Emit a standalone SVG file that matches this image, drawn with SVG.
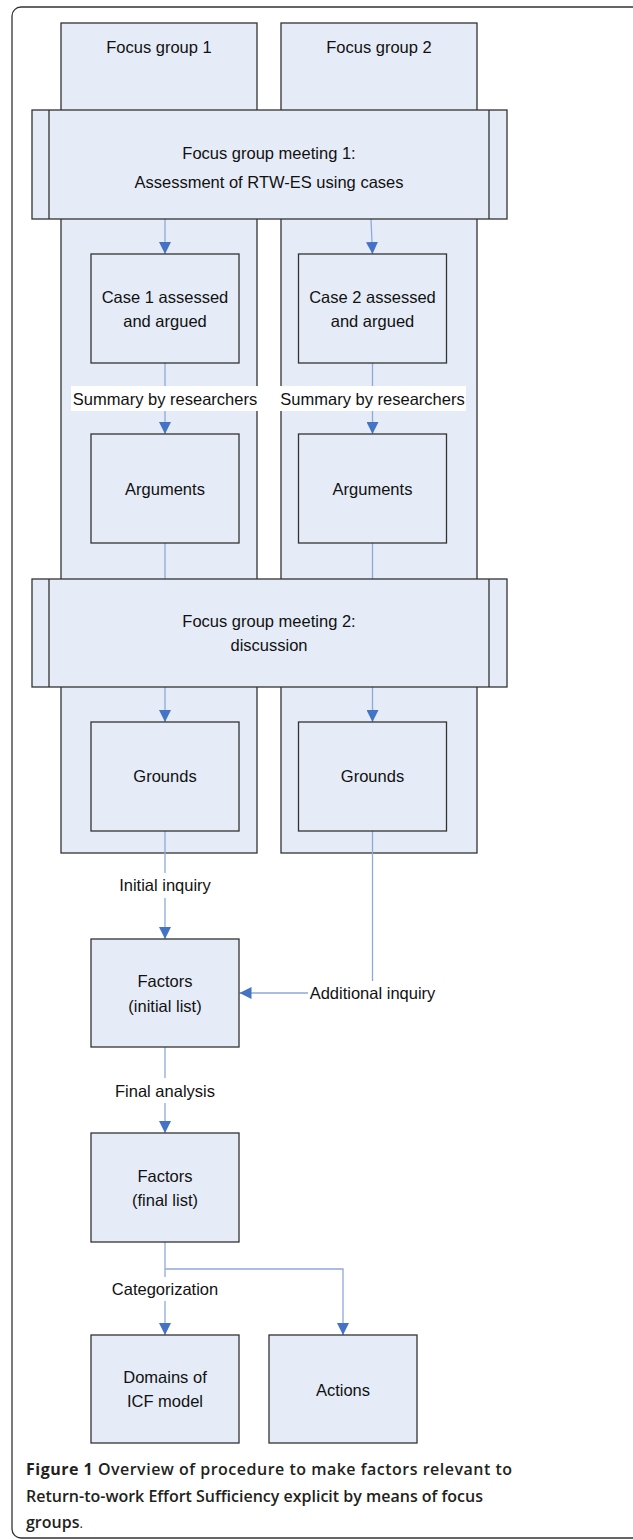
<svg xmlns="http://www.w3.org/2000/svg" width="633" height="1540" viewBox="0 0 633 1540">
<defs>
<style>
.box{fill:#E6ECF7;stroke:#333;stroke-width:1.3}
.t{font-family:"Liberation Sans",Arial,sans-serif;font-size:16.5px;fill:#111;text-anchor:middle}
.c{stroke:#8EA9DB;stroke-width:1.3;fill:none}
.lbg{fill:#fff}
.cap{font-family:"Open Sans","Liberation Sans",sans-serif;font-size:16px;fill:#231F20}
</style>
<marker id="ah" markerUnits="userSpaceOnUse" markerWidth="12" markerHeight="12" refX="12" refY="6" orient="auto" viewBox="0 0 12 12">
<path d="M0,0 L12,6 L0,12 z" fill="#4472C4"/>
</marker>
</defs>
<rect id="frame" x="12" y="7" width="640" height="1531" rx="9" fill="#fff" stroke="#333" stroke-width="1.3"/>

<g id="fg1"><rect class="box" x="61" y="23" width="196" height="830"/><text class="t" x="159" y="53">Focus group 1</text></g>
<g id="fg2"><rect class="box" x="281" y="23" width="196" height="830"/><text class="t" x="379" y="53">Focus group 2</text></g>

<g id="connectors">
<line class="c" x1="165" y1="219" x2="165" y2="254" marker-end="url(#ah)"/>
<line class="c" x1="371" y1="219" x2="372.5" y2="254" marker-end="url(#ah)"/>
<line class="c" x1="165" y1="363" x2="165" y2="434" marker-end="url(#ah)"/>
<line class="c" x1="372.5" y1="363" x2="372.5" y2="434" marker-end="url(#ah)"/>
<line class="c" x1="165" y1="543" x2="165" y2="579"/>
<line class="c" x1="372.5" y1="543" x2="372.5" y2="579"/>
<line class="c" x1="165" y1="687" x2="165" y2="722" marker-end="url(#ah)"/>
<line class="c" x1="372.5" y1="687" x2="372.5" y2="722" marker-end="url(#ah)"/>
<line class="c" x1="165" y1="831" x2="165" y2="873"/>
<line class="c" x1="165" y1="898" x2="165" y2="939" marker-end="url(#ah)"/>
<line class="c" x1="372.5" y1="831" x2="372.5" y2="981"/>
<line class="c" x1="308" y1="993" x2="239.5" y2="993" marker-end="url(#ah)"/>
<line class="c" x1="165" y1="1047" x2="165" y2="1078"/>
<line class="c" x1="165" y1="1103" x2="165" y2="1133" marker-end="url(#ah)"/>
<line class="c" x1="165" y1="1242" x2="165" y2="1277"/>
<line class="c" x1="165" y1="1301" x2="165" y2="1335" marker-end="url(#ah)"/>
<polyline class="c" points="165,1269 343,1269 343,1335" marker-end="url(#ah)"/>
<rect class="lbg" x="71" y="386" width="187" height="25"/>
<text class="t" x="165" y="405">Summary by researchers</text>
<rect class="lbg" x="279" y="386" width="187" height="25"/>
<text class="t" x="372.5" y="405">Summary by researchers</text>
<text class="t" x="165" y="891">Initial inquiry</text>
<text class="t" x="372.5" y="999">Additional inquiry</text>
<text class="t" x="165" y="1097">Final analysis</text>
<text class="t" x="165" y="1295">Categorization</text>
</g>

<g id="meeting1"><rect class="box" x="32" y="110" width="475" height="109"/><line stroke="#333" stroke-width="1.3" x1="49" y1="110" x2="49" y2="219"/><line stroke="#333" stroke-width="1.3" x1="489" y1="110" x2="489" y2="219"/><text class="t" x="269" y="159">Focus group meeting 1:</text><text class="t" x="269" y="188">Assessment of RTW-ES using cases</text></g>

<g id="case1"><rect class="box" x="91" y="254" width="148" height="109"/><text class="t" x="165" y="303">Case 1 assessed</text><text class="t" x="165" y="327">and argued</text></g>
<g id="case2"><rect class="box" x="298.5" y="254" width="148" height="109"/><text class="t" x="372.5" y="303">Case 2 assessed</text><text class="t" x="372.5" y="327">and argued</text></g>
<g id="args1"><rect class="box" x="91" y="434" width="148" height="109"/><text class="t" x="165" y="495">Arguments</text></g>
<g id="args2"><rect class="box" x="298.5" y="434" width="148" height="109"/><text class="t" x="372.5" y="495">Arguments</text></g>

<g id="meeting2"><rect class="box" x="32" y="579" width="475" height="108"/><line stroke="#333" stroke-width="1.3" x1="49" y1="579" x2="49" y2="687"/><line stroke="#333" stroke-width="1.3" x1="489" y1="579" x2="489" y2="687"/><text class="t" x="269" y="627">Focus group meeting 2:</text><text class="t" x="269" y="651">discussion</text></g>

<g id="grounds1"><rect class="box" x="91" y="722" width="148" height="109"/><text class="t" x="165" y="782">Grounds</text></g>
<g id="grounds2"><rect class="box" x="298.5" y="722" width="148" height="109"/><text class="t" x="372.5" y="782">Grounds</text></g>

<g id="factorsInitial"><rect class="box" x="91" y="939" width="148" height="108"/><text class="t" x="165" y="987">Factors</text><text class="t" x="165" y="1012">(initial list)</text></g>
<g id="factorsFinal"><rect class="box" x="91" y="1133" width="148" height="109"/><text class="t" x="165" y="1182">Factors</text><text class="t" x="165" y="1206">(final list)</text></g>
<g id="domains"><rect class="box" x="91" y="1335" width="148" height="108"/><text class="t" x="165" y="1383">Domains of</text><text class="t" x="165" y="1407">ICF model</text></g>
<g id="actions"><rect class="box" x="269" y="1335" width="148" height="108"/><text class="t" x="343" y="1396">Actions</text></g>

<g id="caption">
<text class="cap" x="26" y="1475" textLength="486" lengthAdjust="spacing"><tspan font-weight="700">Figure 1</tspan><tspan font-weight="600"> Overview of procedure to make factors relevant to</tspan></text>
<text class="cap" x="26" y="1502" font-weight="600" textLength="457" lengthAdjust="spacing">Return-to-work Effort Sufficiency explicit by means of focus</text>
<text class="cap" x="26" y="1528"><tspan font-weight="600">groups</tspan><tspan font-size="13">.</tspan></text>
</g>
</svg>
